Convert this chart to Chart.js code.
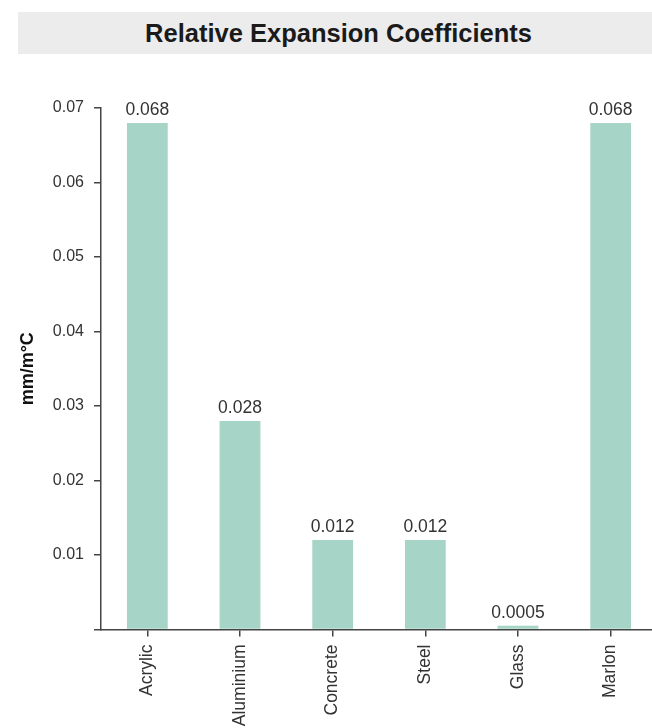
<!DOCTYPE html>
<html>
<head>
<meta charset="utf-8">
<script src="https://cdn.jsdelivr.net/npm/chart.js@4/dist/chart.umd.min.js"></script>
<style>
html,body{margin:0;padding:0;background:#fff;overflow:hidden;}
#wrap{position:absolute;left:0;top:0;width:657px;height:728px;}
#title{position:absolute;left:18px;top:12px;width:634px;height:42px;background:#ececec;box-sizing:border-box;padding-left:7px;
  font:bold 25.5px "Liberation Sans",Arial,sans-serif;color:#1a1a1a;text-align:center;line-height:42px;}
</style>
</head>
<body>
<div id="title">Relative Expansion Coefficients</div>
<div id="wrap"><canvas id="c" width="657" height="728"></canvas></div>
<script>
const materials=['Acrylic','Aluminium','Concrete','Steel','Glass','Marlon'];
const coefficients=[0.068,0.028,0.012,0.012,0.0005,0.068];
const valueLabels=['0.068','0.028','0.012','0.012','0.0005','0.068'];
const yTicks=[0.01,0.02,0.03,0.04,0.05,0.06,0.07];

const family='"Liberation Sans", Arial, sans-serif';
const axisColor='#444';

const barLabels={
  id:'barLabels',
  afterDatasetsDraw(chart){
    const ctx=chart.ctx;
    const meta=chart.getDatasetMeta(0);
    ctx.save();
    ctx.font='17.5px '+family;
    ctx.fillStyle='#333';
    ctx.textAlign='center';
    ctx.textBaseline='alphabetic';
    meta.data.forEach((bar,i)=>{ ctx.fillText(valueLabels[i],bar.x,bar.y-8); });
    ctx.restore();
  }
};

new Chart(document.getElementById('c'),{
  type:'bar',
  data:{labels:materials,datasets:[{data:coefficients,backgroundColor:'#a6d4c6',
    categoryPercentage:1,barPercentage:0.44}]},
  options:{
    responsive:false,animation:false,
    layout:{padding:{top:108,left:0,right:0,bottom:0}},
    plugins:{legend:{display:false},tooltip:{enabled:false}},
    scales:{
      x:{
        offset:true,
        grid:{drawOnChartArea:false,offset:false,tickLength:7,color:axisColor,lineWidth:1.5},
        border:{color:axisColor,width:1.5},
        ticks:{maxRotation:90,minRotation:90,padding:8,color:'#333',font:{family,size:17.5},autoSkip:false},
        afterFit(s){s.height=98.5;}
      },
      y:{
        min:0,max:0.07,
        afterBuildTicks(s){s.ticks=[0].concat(yTicks).map(v=>({value:v}));},
        grid:{drawOnChartArea:false,tickLength:7,color:axisColor,lineWidth:1.5},
        border:{color:axisColor,width:1.5},
        ticks:{padding:10,color:'#333',font:{family,size:16},callback:v=>v===0?'':v.toFixed(2)},
        title:{display:true,text:'mm/m°C',color:'#111',
          font:{family,size:18,weight:'bold'},
          padding:{top:17,bottom:0}},
        afterFit(s){s.width=101;}
      }
    }
  },
  plugins:[barLabels]
});
</script>
</body>
</html>
